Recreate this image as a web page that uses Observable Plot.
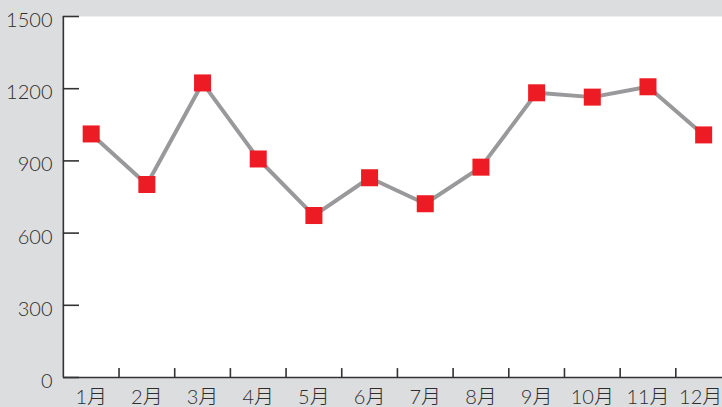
<!DOCTYPE html>
<html>
<head>
<meta charset="utf-8">
<script src="https://cdn.jsdelivr.net/npm/d3@7"></script>
<script src="https://cdn.jsdelivr.net/npm/@observablehq/plot@0.6"></script>
<style>
  html, body { margin: 0; padding: 0; background: #dcdddf; overflow: hidden; }
  #chart svg { display: block; overflow: hidden; }
</style>
</head>
<body>
<div id="chart"></div>
<script>
const months = ["1月","2月","3月","4月","5月","6月","7月","8月","9月","10月","11月","12月"];
const values = [1012, 802, 1224, 908, 673, 830, 722, 874, 1183, 1165, 1208, 1008];
const yTicks = [0, 300, 600, 900, 1200, 1500];

const data = months.map((m, i) => ({month: m, pos: i + 0.5, value: values[i]}));
const boundaries = d3.range(1, months.length);
const centers = data.map(d => d.pos);

const font = "Lato, 'Noto Sans CJK SC', sans-serif";
const axisColor = "#333";
const xLabel = d => months[Math.floor(d)];

const chart = Plot.plot({
  width: 722,
  height: 407,
  marginLeft: 63,
  marginRight: 0,
  marginTop: 16,
  marginBottom: 30,
  style: {background: "transparent", fontFamily: font, color: "#2e2e2e", fontWeight: 300},
  x: {type: "linear", domain: [0, 12], range: [62.85, 731]},
  y: {domain: [0, 1500]},
  marks: [
    Plot.frame({fill: "white", stroke: null}),
    Plot.ruleY(yTicks, {x1: 0, x2: 0.29, stroke: axisColor, strokeWidth: 1.6}),
    Plot.ruleX(boundaries, {y1: 0, y2: 37, stroke: axisColor, strokeWidth: 1.6}),
    Plot.ruleX([0], {stroke: axisColor, strokeWidth: 1.6}),
    Plot.ruleY([0], {stroke: axisColor, strokeWidth: 1.6}),
    Plot.axisY({ticks: yTicks, tickSize: 0, tickPadding: 11, dy: 4, fontSize: 20, label: null, tickFormat: d => String(d)}),
    Plot.axisX({ticks: centers.slice(0, -1), tickSize: 0, tickPadding: 12, fontSize: 20, label: null, tickFormat: xLabel}),
    Plot.axisX({ticks: centers.slice(-1), tickSize: 0, tickPadding: 12, fontSize: 20, label: null, tickFormat: xLabel, dx: -3}),
    Plot.line(data, {x: "pos", y: "value", stroke: "#99999b", strokeWidth: 4}),
    Plot.dot(data, {x: "pos", y: "value", symbol: "square", r: 9.6, fill: "#ed1c24", stroke: null})
  ]
});
document.getElementById("chart").appendChild(chart);
</script>
</body>
</html>
